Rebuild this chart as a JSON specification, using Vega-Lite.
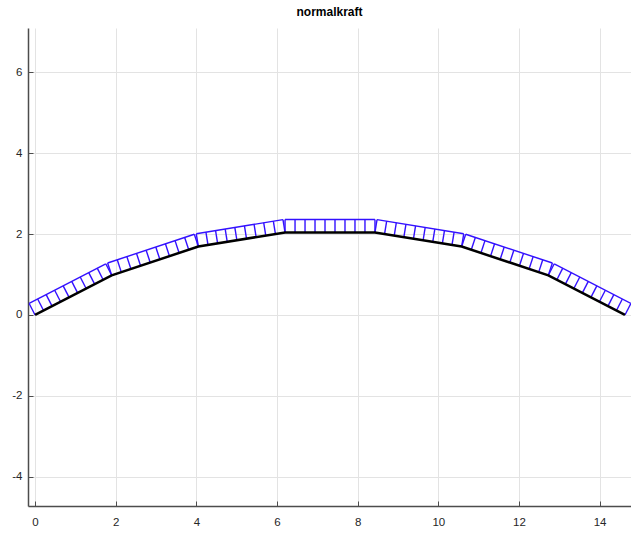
{
  "$schema": "https://vega.github.io/schema/vega-lite/v6.json",
  "width": 603,
  "height": 478,
  "autosize": {"type": "none"},
  "padding": {"left": 28, "top": 28, "right": 0, "bottom": 29},
  "title": {"text": "normalkraft", "fontSize": 12, "fontWeight": "bold", "font": "Liberation Sans", "color": "#000000", "offset": 9, "anchor": "middle"},
  "config": {
    "view": {"stroke": null},
    "axis": {
      "domainColor": "#4d4d4d",
      "domainWidth": 1.5,
      "gridColor": "#e3e3e3",
      "gridWidth": 1,
      "tickColor": "#4d4d4d",
      "tickSize": -5,
      "labelFont": "Liberation Sans",
      "labelFontSize": 11.5,
      "labelColor": "#262626",
      "labelExpr": "toString(datum.value)",
      "title": null
    }
  },
  "datasets": {
    "nodes": [
      {"x": 0, "y": 0},
      {"x": 1.9, "y": 0.98},
      {"x": 4.05, "y": 1.69},
      {"x": 6.2, "y": 2.04},
      {"x": 8.43, "y": 2.04},
      {"x": 10.58, "y": 1.69},
      {"x": 12.73, "y": 0.98},
      {"x": 14.63, "y": 0}
    ],
    "ticks": [
      {"x": -0.1467, "y": 0.2844, "x2": 1.7533, "y2": 1.2644},
      {"x": 1.7996, "y": 1.2839, "x2": 3.9496, "y2": 1.9939},
      {"x": 3.9986, "y": 2.0058, "x2": 6.1486, "y2": 2.3558},
      {"x": 6.2, "y": 2.36, "x2": 8.43, "y2": 2.36},
      {"x": 8.4814, "y": 2.3558, "x2": 10.6314, "y2": 2.0058},
      {"x": 10.6804, "y": 1.9939, "x2": 12.8304, "y2": 1.2839},
      {"x": 12.8767, "y": 1.2644, "x2": 14.7767, "y2": 0.2844},

      {"x": 0, "y": 0, "x2": -0.1467, "y2": 0.2844},
      {"x": 0.2111, "y": 0.1089, "x2": 0.0644, "y2": 0.3933},
      {"x": 0.4222, "y": 0.2178, "x2": 0.2755, "y2": 0.5022},
      {"x": 0.6333, "y": 0.3267, "x2": 0.4866, "y2": 0.6111},
      {"x": 0.8444, "y": 0.4356, "x2": 0.6977, "y2": 0.72},
      {"x": 1.0556, "y": 0.5444, "x2": 0.9089, "y2": 0.8288},
      {"x": 1.2667, "y": 0.6533, "x2": 1.12, "y2": 0.9377},
      {"x": 1.4778, "y": 0.7622, "x2": 1.3311, "y2": 1.0466},
      {"x": 1.6889, "y": 0.8711, "x2": 1.5422, "y2": 1.1555},
      {"x": 1.9, "y": 0.98, "x2": 1.7533, "y2": 1.2644},

      {"x": 1.9, "y": 0.98, "x2": 1.7996, "y2": 1.2839},
      {"x": 2.1389, "y": 1.0589, "x2": 2.0385, "y2": 1.3628},
      {"x": 2.3778, "y": 1.1378, "x2": 2.2774, "y2": 1.4417},
      {"x": 2.6167, "y": 1.2167, "x2": 2.5163, "y2": 1.5206},
      {"x": 2.8556, "y": 1.2956, "x2": 2.7552, "y2": 1.5995},
      {"x": 3.0944, "y": 1.3744, "x2": 2.994, "y2": 1.6783},
      {"x": 3.3333, "y": 1.4533, "x2": 3.2329, "y2": 1.7572},
      {"x": 3.5722, "y": 1.5322, "x2": 3.4718, "y2": 1.8361},
      {"x": 3.8111, "y": 1.6111, "x2": 3.7107, "y2": 1.915},
      {"x": 4.05, "y": 1.69, "x2": 3.9496, "y2": 1.9939},

      {"x": 4.05, "y": 1.69, "x2": 3.9986, "y2": 2.0058},
      {"x": 4.2889, "y": 1.7289, "x2": 4.2375, "y2": 2.0447},
      {"x": 4.5278, "y": 1.7678, "x2": 4.4764, "y2": 2.0836},
      {"x": 4.7667, "y": 1.8067, "x2": 4.7153, "y2": 2.1225},
      {"x": 5.0056, "y": 1.8456, "x2": 4.9542, "y2": 2.1614},
      {"x": 5.2444, "y": 1.8844, "x2": 5.193, "y2": 2.2002},
      {"x": 5.4833, "y": 1.9233, "x2": 5.4319, "y2": 2.2391},
      {"x": 5.7222, "y": 1.9622, "x2": 5.6708, "y2": 2.278},
      {"x": 5.9611, "y": 2.0011, "x2": 5.9097, "y2": 2.3169},
      {"x": 6.2, "y": 2.04, "x2": 6.1486, "y2": 2.3558},

      {"x": 6.2, "y": 2.04, "x2": 6.2, "y2": 2.36},
      {"x": 6.4478, "y": 2.04, "x2": 6.4478, "y2": 2.36},
      {"x": 6.6956, "y": 2.04, "x2": 6.6956, "y2": 2.36},
      {"x": 6.9433, "y": 2.04, "x2": 6.9433, "y2": 2.36},
      {"x": 7.1911, "y": 2.04, "x2": 7.1911, "y2": 2.36},
      {"x": 7.4389, "y": 2.04, "x2": 7.4389, "y2": 2.36},
      {"x": 7.6867, "y": 2.04, "x2": 7.6867, "y2": 2.36},
      {"x": 7.9344, "y": 2.04, "x2": 7.9344, "y2": 2.36},
      {"x": 8.1822, "y": 2.04, "x2": 8.1822, "y2": 2.36},
      {"x": 8.43, "y": 2.04, "x2": 8.43, "y2": 2.36},

      {"x": 8.43, "y": 2.04, "x2": 8.4814, "y2": 2.3558},
      {"x": 8.6689, "y": 2.0011, "x2": 8.7203, "y2": 2.3169},
      {"x": 8.9078, "y": 1.9622, "x2": 8.9592, "y2": 2.278},
      {"x": 9.1467, "y": 1.9233, "x2": 9.1981, "y2": 2.2391},
      {"x": 9.3856, "y": 1.8844, "x2": 9.437, "y2": 2.2002},
      {"x": 9.6244, "y": 1.8456, "x2": 9.6758, "y2": 2.1614},
      {"x": 9.8633, "y": 1.8067, "x2": 9.9147, "y2": 2.1225},
      {"x": 10.1022, "y": 1.7678, "x2": 10.1536, "y2": 2.0836},
      {"x": 10.3411, "y": 1.7289, "x2": 10.3925, "y2": 2.0447},
      {"x": 10.58, "y": 1.69, "x2": 10.6314, "y2": 2.0058},

      {"x": 10.58, "y": 1.69, "x2": 10.6804, "y2": 1.9939},
      {"x": 10.8189, "y": 1.6111, "x2": 10.9193, "y2": 1.915},
      {"x": 11.0578, "y": 1.5322, "x2": 11.1582, "y2": 1.8361},
      {"x": 11.2967, "y": 1.4533, "x2": 11.3971, "y2": 1.7572},
      {"x": 11.5356, "y": 1.3744, "x2": 11.636, "y2": 1.6783},
      {"x": 11.7744, "y": 1.2956, "x2": 11.8748, "y2": 1.5995},
      {"x": 12.0133, "y": 1.2167, "x2": 12.1137, "y2": 1.5206},
      {"x": 12.2522, "y": 1.1378, "x2": 12.3526, "y2": 1.4417},
      {"x": 12.4911, "y": 1.0589, "x2": 12.5915, "y2": 1.3628},
      {"x": 12.73, "y": 0.98, "x2": 12.8304, "y2": 1.2839},

      {"x": 12.73, "y": 0.98, "x2": 12.8767, "y2": 1.2644},
      {"x": 12.9411, "y": 0.8711, "x2": 13.0878, "y2": 1.1555},
      {"x": 13.1522, "y": 0.7622, "x2": 13.2989, "y2": 1.0466},
      {"x": 13.3633, "y": 0.6533, "x2": 13.51, "y2": 0.9377},
      {"x": 13.5744, "y": 0.5444, "x2": 13.7211, "y2": 0.8288},
      {"x": 13.7856, "y": 0.4356, "x2": 13.9323, "y2": 0.72},
      {"x": 13.9967, "y": 0.3267, "x2": 14.1434, "y2": 0.6111},
      {"x": 14.2078, "y": 0.2178, "x2": 14.3545, "y2": 0.5022},
      {"x": 14.4189, "y": 0.1089, "x2": 14.5656, "y2": 0.3933},
      {"x": 14.63, "y": 0, "x2": 14.7767, "y2": 0.2844}
    ]
  },
  "layer": [
    {
      "data": {"name": "ticks"},
      "mark": {"type": "rule", "color": "#3311ff", "strokeWidth": 1.4},
      "encoding": {
        "x": {"field": "x", "type": "quantitative",
              "scale": {"domain": [-0.175, 14.78], "nice": false, "zero": false},
              "axis": {"values": [0, 2, 4, 6, 8, 10, 12, 14], "labelPadding": 15, "grid": true}},
        "y": {"field": "y", "type": "quantitative",
              "scale": {"domain": [-4.72, 7.09], "nice": false, "zero": false},
              "axis": {"values": [-4, -2, 0, 2, 4, 6], "labelPadding": 11, "grid": true}},
        "x2": {"field": "x2"},
        "y2": {"field": "y2"}
      }
    },
    {
      "data": {"name": "nodes"},
      "mark": {"type": "line", "color": "#000000", "strokeWidth": 2.5},
      "encoding": {
        "x": {"field": "x", "type": "quantitative"},
        "y": {"field": "y", "type": "quantitative"}
      }
    }
  ]
}
